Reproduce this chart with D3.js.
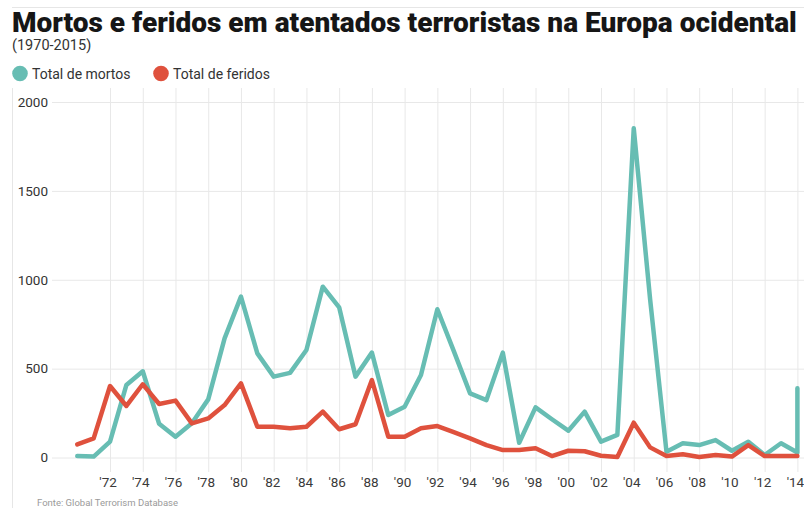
<!DOCTYPE html>
<html>
<head>
<meta charset="utf-8">
<script src="https://cdn.jsdelivr.net/npm/d3@7/dist/d3.min.js"></script>
<style>
  html, body { margin: 0; padding: 0; background: #fff; }
  svg { display: block; font-family: Roboto, "Noto Sans", sans-serif; }
</style>
</head>
<body>
<svg id="chart" width="804" height="508"></svg>
<script>
// Western Europe terrorism casualties, GTD, 1970-2015
const years = [1970,1971,1972,1973,1974,1975,1976,1977,1978,1979,
               1980,1981,1982,1983,1984,1985,1986,1987,1988,1989,
               1990,1991,1992,1993,1994,1995,1996,1997,1998,1999,
               2000,2001,2002,2003,2004,2005,2006,2007,2008,2009,
               2010,2011,2012,2013,2014,2015];
const mortos = [8,5,89,408,485,190,117,193,327,670,
                905,586,455,476,605,961,845,455,590,239,
                286,464,834,600,361,323,590,83,282,215,
                151,258,89,127,1852,890,33,80,70,98,
                38,89,14,80,28,390];
const feridos = [74,108,402,290,412,301,320,192,220,295,
                 417,173,173,164,173,258,159,187,436,117,
                 117,164,177,143,108,70,42,42,52,8,
                 38,35,10,3,196,57,8,18,3,14,
                 5,70,8,8,8,8];
const yTicks = [0, 500, 1000, 1500, 2000];
const xTicks = [1972,1974,1976,1978,1980,1982,1984,1986,1988,1990,1992,
                1994,1996,1998,2000,2002,2004,2006,2008,2010,2012,2014];
const seriesNames = ["Total de mortos", "Total de feridos"];
const colors = ["#67bdb3", "#df513d"];

const svg = d3.select("#chart");
const W = 804, H = 508;

// frame lines
svg.append("line").attr("x1", 12).attr("x2", W).attr("y1", 7.5).attr("y2", 7.5)
  .attr("stroke", "#e6e6e6").attr("stroke-width", 1);
svg.append("line").attr("x1", 12.5).attr("x2", 12.5).attr("y1", 88).attr("y2", H)
  .attr("stroke", "#e6e6e6").attr("stroke-width", 1);

// title block: headline sized to span the full header width
const title = svg.append("text").attr("x", 12).attr("y", 31.5)
  .attr("font-size", 26).attr("font-weight", 900).attr("fill", "#161616")
  .text("Mortos e feridos em atentados terroristas na Europa ocidental");
const tw = title.node().getComputedTextLength();
title.attr("font-size", 26 * 785 / tw);
svg.append("text").attr("x", 12).attr("y", 50)
  .attr("font-size", 14.5).attr("fill", "#333")
  .text("(1970-2015)");

// legend
const legendX = [20, 161];
seriesNames.forEach((name, i) => {
  const g = svg.append("g").attr("transform", `translate(${legendX[i]},73.5)`);
  g.append("circle").attr("r", 7.8).attr("fill", colors[i]);
  g.append("text").attr("x", 12).attr("y", 5).attr("font-size", 14)
    .attr("fill", "#333").text(name);
});

// scales: the year axis stops at 2014, later points are clamped to its edge
const x = d3.scaleLinear().domain([1970, 2014]).range([77.3, 797.4]).clamp(true);
const y = d3.scaleLinear().domain([0, 2000]).range([457.5, 102]);

// horizontal grid + y labels
const yAxis = svg.append("g").attr("transform", "translate(52,0)")
  .call(d3.axisLeft(y).tickValues(yTicks).tickSize(-(W - 52)).tickPadding(4)
        .tickFormat(d3.format("d")));
yAxis.select(".domain").remove();
yAxis.selectAll(".tick line").attr("stroke", "#e8e8e8");
yAxis.selectAll(".tick text").attr("font-size", 13.5).attr("fill", "#333")
  .attr("font-family", "Roboto, sans-serif");

// vertical grid + x labels
const xAxis = svg.append("g").attr("transform", "translate(0,472)")
  .call(d3.axisBottom(x).tickValues(xTicks).tickSize(-(472 - 88)).tickPadding(5.5)
        .tickFormat(d => "'" + String(d).slice(2)));
xAxis.select(".domain").remove();
xAxis.selectAll(".tick line").attr("stroke", "#e8e8e8");
xAxis.selectAll(".tick text").attr("font-size", 13.5).attr("fill", "#3a3a3a")
  .attr("dx", -2.5).attr("font-family", "Roboto, sans-serif");

// lines
const line = d3.line().x((d, i) => x(years[i])).y(d => y(d));
[mortos, feridos].forEach((vals, i) => {
  svg.append("path").datum(vals)
    .attr("d", line)
    .attr("fill", "none")
    .attr("stroke", colors[i])
    .attr("stroke-width", 4.5)
    .attr("stroke-linejoin", "round")
    .attr("stroke-linecap", "round");
});

// source note
svg.append("text").attr("x", 37).attr("y", 506)
  .attr("font-size", 9.5).attr("fill", "#9a9a9a")
  .text("Fonte: Global Terrorism Database");
</script>
</body>
</html>
